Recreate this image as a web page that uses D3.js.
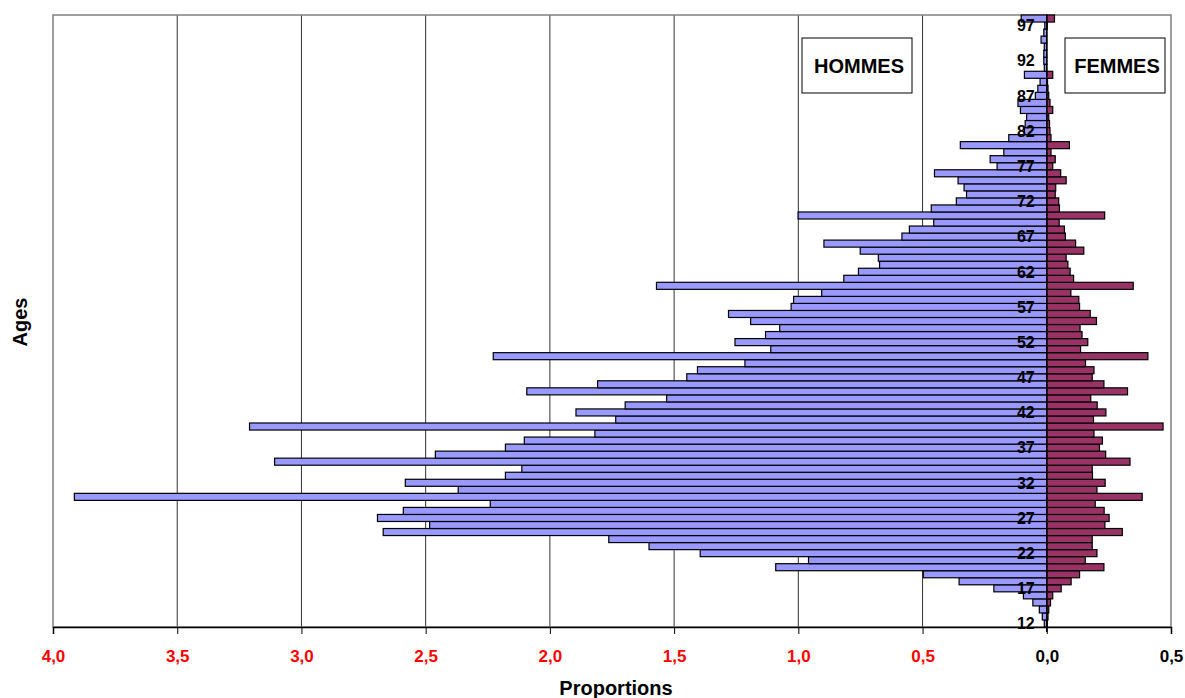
<!DOCTYPE html>
<html>
<head>
<meta charset="utf-8">
<script src="https://cdn.jsdelivr.net/npm/d3@7"></script>
<style>
  body { margin: 0; background: #fff; }
  svg text { font-family: "Liberation Sans", Arial, sans-serif; font-weight: bold; }
</style>
</head>
<body>
<svg width="1185" height="698"></svg>
<script>
// ages 12 -> 98
var ages = d3.range(12, 99);

var hommes = [
  0.010, 0.018, 0.030, 0.056, 0.094, 0.213, 0.353, 0.497, 1.091, 0.959,
  1.395, 1.601, 1.763, 2.671, 2.484, 2.694, 2.590, 2.240, 3.914, 2.369,
  2.582, 2.179, 2.113, 3.108, 2.461, 2.179, 2.103, 1.819, 3.209, 1.735,
  1.895, 1.697, 1.530, 2.093, 1.808, 1.449, 1.406, 1.215, 2.228, 1.111,
  1.255, 1.132, 1.075, 1.192, 1.281, 1.029, 1.019, 0.906, 1.571, 0.817,
  0.758, 0.673, 0.678, 0.751, 0.897, 0.583, 0.553, 0.455, 1.001, 0.465,
  0.364, 0.323, 0.333, 0.357, 0.452, 0.200, 0.228, 0.173, 0.348, 0.153,
  0.090, 0.087, 0.081, 0.106, 0.116, 0.046, 0.036, 0.027, 0.090, 0.010,
  0.012, 0.012, 0.010, 0.023, 0.012, 0.008, 0.103
];

var femmes = [
  0.002, 0.005, 0.008, 0.015, 0.024, 0.058, 0.098, 0.132, 0.230, 0.155,
  0.202, 0.183, 0.183, 0.304, 0.234, 0.251, 0.231, 0.195, 0.384, 0.202,
  0.235, 0.184, 0.183, 0.335, 0.237, 0.212, 0.224, 0.190, 0.468, 0.188,
  0.238, 0.203, 0.177, 0.325, 0.230, 0.183, 0.190, 0.156, 0.407, 0.136,
  0.165, 0.142, 0.134, 0.200, 0.175, 0.132, 0.129, 0.097, 0.348, 0.108,
  0.094, 0.085, 0.078, 0.149, 0.116, 0.075, 0.071, 0.050, 0.233, 0.051,
  0.048, 0.034, 0.036, 0.078, 0.056, 0.024, 0.034, 0.017, 0.091, 0.017,
  0.013, 0.011, 0.008, 0.024, 0.013, 0.008, 0.005, 0.003, 0.024, 0.000,
  0.000, 0.000, 0.000, 0.000, 0.000, 0.002, 0.031
];

var xTicks = [-4, -3.5, -3, -2.5, -2, -1.5, -1, -0.5, 0, 0.5];
var ageLabels = d3.range(12, 99, 5);

var rows = ages.map(function(a, i) {
  return {age: a, h: hommes[i], f: femmes[i]};
});

var svg = d3.select("svg"),
    plotL = 53, plotR = 1171, plotT = 15, plotB = 627;

var x = d3.scaleLinear().domain([-4, 0.5]).range([plotL, plotR]);
var y = d3.scaleBand().domain(ages.slice().reverse()).range([plotT, plotB]).padding(0);

// gridlines
svg.append("g").selectAll("line")
  .data(xTicks.filter(function(t) { return t > -4 && t < 0; }))
  .enter().append("line")
  .attr("x1", function(d) { return x(d); })
  .attr("x2", function(d) { return x(d); })
  .attr("y1", plotT).attr("y2", plotB)
  .attr("stroke", "#333").attr("stroke-width", 1);

// plot border
svg.append("rect")
  .attr("x", plotL).attr("y", plotT)
  .attr("width", plotR - plotL).attr("height", plotB - plotT)
  .attr("fill", "none").attr("stroke", "#808080").attr("stroke-width", 1.5);

// bars
var bars = svg.append("g");
bars.selectAll("rect.h")
  .data(rows)
  .enter().append("rect")
  .attr("class", "h")
  .attr("x", function(d) { return x(-d.h); })
  .attr("width", function(d) { return x(0) - x(-d.h); })
  .attr("y", function(d) { return y(d.age); })
  .attr("height", y.bandwidth())
  .attr("fill", "#9999FF")
  .attr("stroke", "#000").attr("stroke-width", 1.2);

bars.selectAll("rect.f")
  .data(rows)
  .enter().append("rect")
  .attr("class", "f")
  .attr("x", x(0))
  .attr("width", function(d) { return x(d.f) - x(0); })
  .attr("y", function(d) { return y(d.age); })
  .attr("height", y.bandwidth())
  .attr("fill", "#993366")
  .attr("stroke", "#000").attr("stroke-width", 1.2);

// zero axis
svg.append("line")
  .attr("x1", x(0)).attr("x2", x(0))
  .attr("y1", plotT).attr("y2", plotB + 5)
  .attr("stroke", "#000").attr("stroke-width", 1.5);

// bottom axis
var xAxis = d3.axisBottom(x)
  .tickValues(xTicks)
  .tickSize(7)
  .tickPadding(16)
  .tickFormat(function(d) { return d3.format(".1f")(Math.abs(d)).replace(".", ","); });

var ax = svg.append("g")
  .attr("transform", "translate(0," + plotB + ")")
  .call(xAxis);
ax.select(".domain").attr("stroke", "#000").attr("stroke-width", 1.5);
ax.selectAll(".tick line").attr("stroke", "#000");
ax.selectAll(".tick text")
  .attr("font-size", "17px")
  .attr("font-family", "Liberation Sans, Arial, sans-serif")
  .attr("font-weight", "bold")
  .attr("fill", function(d) { return d < 0 ? "#FF0000" : "#000"; });

// age labels
svg.append("g").selectAll("text")
  .data(ageLabels)
  .enter().append("text")
  .attr("x", x(0) - 12)
  .attr("y", function(d) { return y(d) + y.bandwidth() / 2; })
  .attr("dy", "0.36em")
  .attr("text-anchor", "end")
  .attr("font-size", "16px")
  .text(function(d) { return d; });

// legend boxes
var legends = [
  {label: "HOMMES", x0: 802, x1: 912},
  {label: "FEMMES", x0: 1065, x1: 1165}
];
var lg = svg.append("g").selectAll("g")
  .data(legends)
  .enter().append("g");
lg.append("rect")
  .attr("x", function(d) { return d.x0; })
  .attr("y", 38)
  .attr("width", function(d) { return d.x1 - d.x0; })
  .attr("height", 55)
  .attr("fill", "#fff").attr("stroke", "#000").attr("stroke-width", 1);
lg.append("text")
  .attr("x", function(d) { return (d.x0 + d.x1) / 2 + 2; })
  .attr("y", 66)
  .attr("dy", "0.36em")
  .attr("text-anchor", "middle")
  .attr("font-size", "20px")
  .text(function(d) { return d.label; });

// axis titles
svg.append("text")
  .attr("x", 616).attr("y", 695)
  .attr("text-anchor", "middle")
  .attr("font-size", "20px")
  .text("Proportions");

svg.append("text")
  .attr("transform", "translate(27,322) rotate(-90)")
  .attr("text-anchor", "middle")
  .attr("font-size", "20px")
  .text("Ages");
</script>
</body>
</html>
